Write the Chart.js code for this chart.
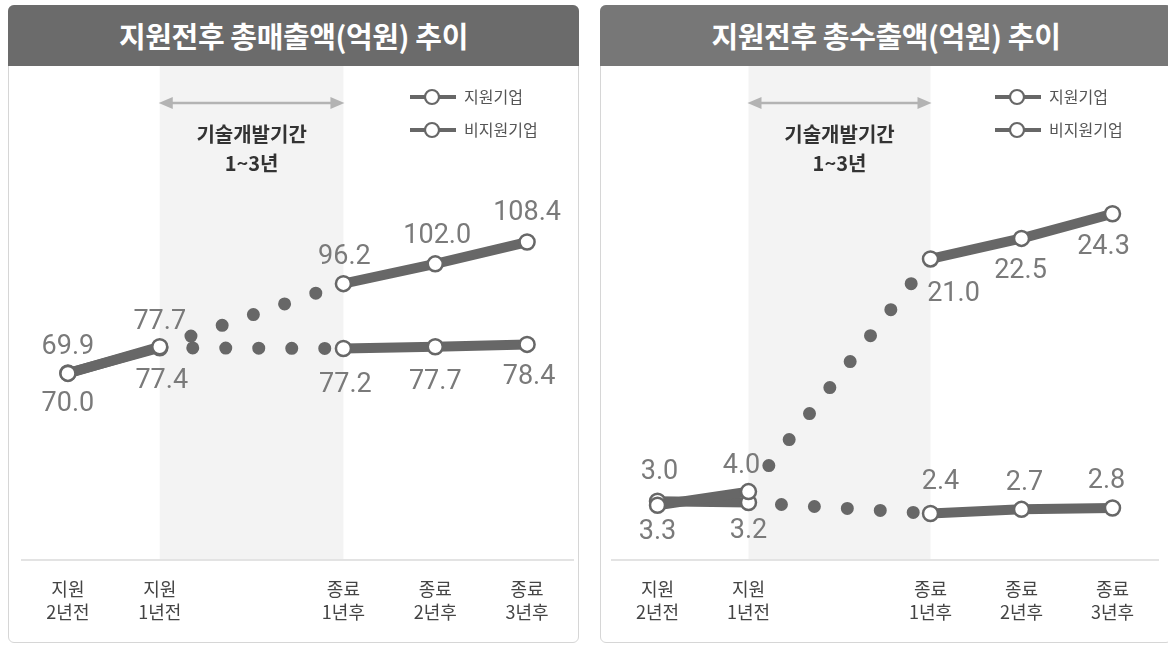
<!DOCTYPE html>
<html>
<head>
<meta charset="utf-8">
<script src="https://cdn.jsdelivr.net/npm/chart.js@4"></script>
<style>
  html, body { margin:0; padding:0; background:#fff; }
  body { width:1168px; height:647px; overflow:hidden; position:relative; font-family:"Noto Sans CJK KR", sans-serif; }
  .panel { position:absolute; top:5px; height:638px; border:1px solid #d6d6d6; border-radius:6px; box-sizing:border-box; }
  .hdr { position:absolute; left:-1px; right:-1px; top:-1px; height:61px; border-radius:6px 6px 0 0;
         color:#fff; font-weight:bold; font-size:29px; text-align:center; line-height:61px; letter-spacing:-0.4px; }
  canvas { position:absolute; top:0; }
</style>
</head>
<body>
<div class="panel" style="left:8px;width:571px;"><div class="hdr" id="t0" style="background:#6b6b6b;"></div></div>
<div class="panel" style="left:600px;width:572px;"><div class="hdr" id="t1" style="background:#777777;"></div></div>
<canvas id="c0" width="584" height="647" style="left:0px;"></canvas>
<canvas id="c1" width="584" height="647" style="left:584px;"></canvas>
<script>
// ---- data ----
const categories = [['지원','2년전'], ['지원','1년전'], '', ['종료','1년후'], ['종료','2년후'], ['종료','3년후']];
const seriesNames = ['지원기업', '비지원기업'];
const salesSupported   = [69.9, 77.7, null, 96.2, 102.0, 108.4];
const salesUnsupported = [70.0, 77.4, null, 77.2, 77.7, 78.4];
const exportSupported   = [3.0, 4.0, null, 21.0, 22.5, 24.3];
const exportUnsupported = [3.3, 3.2, null, 2.4, 2.7, 2.8];
const titles = ['지원전후 총매출액(억원) 추이', '지원전후 총수출액(억원) 추이'];
const periodText = ['기술개발기간', '1~3년'];

// ---- style config ----
const LINE = '#676767';
const leftLabelOffsets = [
  [[0,-26],[0,-25],null,[1,-26],[2,-28],[0,-29]],
  [[0,31],[2,33],null,[2,37],[0,35],[2,33]]
];
const rightLabelOffsets = [
  [[2,-33],[-7,-25],null,[23,35],[-1,33],[-9,33]],
  [[0,31],[0,29],null,[10,-31],[3,-26],[-6,-27]]
];

document.getElementById('t0').textContent = titles[0];
document.getElementById('t1').textContent = titles[1];

const decor = {
  id: 'decor',
  beforeDatasetsDraw(chart) {
    const ctx = chart.ctx, ca = chart.chartArea, xs = chart.scales.x;
    const x1 = xs.getPixelForValue(1), x3 = xs.getPixelForValue(3);
    ctx.save();
    // shaded development period
    ctx.fillStyle = '#f3f3f3';
    ctx.fillRect(x1, ca.top, x3 - x1, ca.bottom - ca.top - 1);
    // arrow
    const ay = 103;
    ctx.strokeStyle = '#b3b3b3'; ctx.fillStyle = '#b3b3b3'; ctx.lineWidth = 2.5;
    ctx.beginPath(); ctx.moveTo(x1 + 8, ay); ctx.lineTo(x3 - 8, ay); ctx.stroke();
    ctx.beginPath(); ctx.moveTo(x1 - 1, ay); ctx.lineTo(x1 + 13, ay - 6); ctx.lineTo(x1 + 13, ay + 6); ctx.closePath(); ctx.fill();
    ctx.beginPath(); ctx.moveTo(x3 + 1, ay); ctx.lineTo(x3 - 13, ay - 6); ctx.lineTo(x3 - 13, ay + 6); ctx.closePath(); ctx.fill();
    // period text
    ctx.fillStyle = '#333';
    ctx.textAlign = 'center'; ctx.textBaseline = 'middle';
    ctx.font = 'bold 20px "Noto Sans CJK KR"';
    const cx = (x1 + x3) / 2;
    ctx.fillText(periodText[0], cx, 134);
    ctx.fillText(periodText[1], cx, 163);
    // legend
    const lx = ca.right - 163;
    [97, 130].forEach((ly, i) => {
      ctx.strokeStyle = LINE; ctx.lineWidth = 4;
      ctx.beginPath(); ctx.moveTo(lx, ly); ctx.lineTo(lx + 46, ly); ctx.stroke();
      ctx.beginPath(); ctx.arc(lx + 22, ly, 7, 0, Math.PI * 2);
      ctx.fillStyle = '#fff'; ctx.fill(); ctx.lineWidth = 2.2; ctx.stroke();
      ctx.fillStyle = '#555'; ctx.textAlign = 'left';
      ctx.font = '16px "Noto Sans CJK KR"';
      ctx.fillText(seriesNames[i], lx + 54, ly);
    });
    ctx.restore();
  },
  afterDatasetsDraw(chart, args, opts) {
    const ctx = chart.ctx;
    ctx.save();
    ctx.fillStyle = '#7a7a7a';
    ctx.font = '27px Roboto';
    ctx.textAlign = 'center'; ctx.textBaseline = 'middle';
    chart.data.datasets.forEach((ds, di) => {
      const meta = chart.getDatasetMeta(di);
      ds.data.forEach((v, i) => {
        if (v === null) return;
        const off = opts.offsets[di][i];
        const p = meta.data[i];
        ctx.fillText(v.toFixed(1), p.x + off[0], p.y + off[1]);
      });
    });
    ctx.restore();
  }
};

function makeChart(id, dataA, dataB, yMin, yMax, padL, padR, offsets) {
  const gap = c => c.p0.skip || c.p1.skip;
  const mk = (label, data) => ({
    label, data,
    borderColor: LINE, borderWidth: 10, borderCapStyle: 'round', borderJoinStyle: 'round',
    spanGaps: true, tension: 0,
    pointRadius: 7.5, pointBorderWidth: 2.5, pointBackgroundColor: '#fff', pointBorderColor: LINE,
    segment: {
      borderDash: c => (gap(c) ? [0, 33] : undefined),
      borderWidth: c => (gap(c) ? 13 : undefined)
    }
  });
  return new Chart(document.getElementById(id), {
    type: 'line',
    data: { labels: categories, datasets: [mk(seriesNames[0], dataA), mk(seriesNames[1], dataB)] },
    options: {
      responsive: false, animation: false, events: [],
      layout: { padding: { left: padL, right: padR, top: 66, bottom: 0 } },
      plugins: { legend: { display: false }, tooltip: { enabled: false }, decor: { offsets } },
      scales: {
        x: {
          type: 'category', offset: true,
          grid: { display: false, drawTicks: false },
          border: { display: true, color: '#e3e3e3', width: 2 },
          ticks: { color: '#444', font: { family: '"Noto Sans CJK KR"', size: 18, lineHeight: 1.25 }, padding: 18, autoSkip: false, maxRotation: 0 },
          afterFit: a => { a.height = 87; }
        },
        y: { display: false, min: yMin, max: yMax }
      }
    },
    plugins: [decor]
  });
}

makeChart('c0', salesSupported, salesUnsupported, 15.2, 160.0, 22, 11, leftLabelOffsets);
makeChart('c1', exportSupported, exportUnsupported, -1.0, 35.1, 28, 3, rightLabelOffsets);
</script>
</body>
</html>
